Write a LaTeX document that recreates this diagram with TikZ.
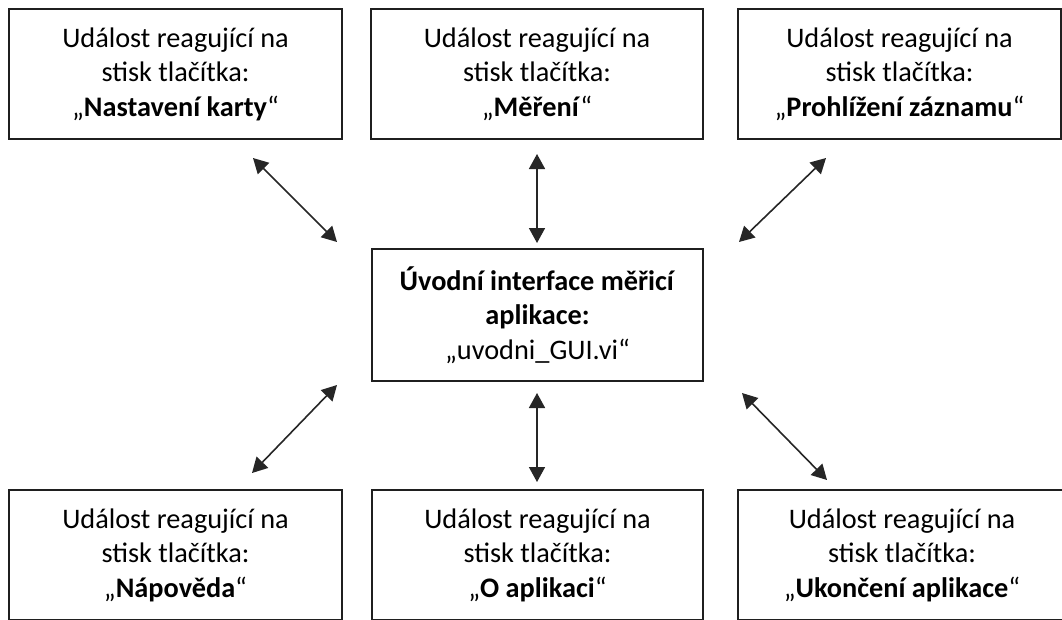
\documentclass[tikz,border=0pt]{standalone}
\usepackage{fontspec}
\setmainfont{Carlito}
\usetikzlibrary{arrows.meta}

\begin{document}
\begin{tikzpicture}[x=1pt, y=-1pt,
  box/.style={draw=black!88, line width=1.6pt, fill=white, inner sep=0pt,
    minimum height=130pt, align=center,
    font=\fontsize{28.3}{34.5}\selectfont},
  biarrow/.style={line width=1.6pt, draw=black!85,
    {Triangle[length=15pt,width=16pt]}-{Triangle[length=15pt,width=16pt]}}]

\useasboundingbox (0,0) rectangle (1062,619);
\clip (0,0) rectangle (1062,619);
\fill[white] (0,0) rectangle (1062,619);

% top row of event boxes
\node[box, minimum width=333pt] (tl) at (175.5,74)
  {Událost reagující na\\stisk tlačítka:\\„\textbf{Nastavení karty}“};
\node[box, minimum width=332pt] (tm) at (537,74)
  {Událost reagující na\\stisk tlačítka:\\„\textbf{Měření}“};
\node[box, minimum width=323pt] (tr) at (899.5,74)
  {Událost reagující na\\stisk tlačítka:\\„\textbf{Prohlížení záznamu}“};

% main interface box
\node[box, minimum width=331pt, minimum height=132pt] (c) at (537.5,315)
  {\textbf{Úvodní interface měřicí}\\\textbf{aplikace:}\\„uvodni\_GUI.vi“};

% bottom row of event boxes
\node[box, minimum width=333pt] (bl) at (175.5,555)
  {Událost reagující na\\stisk tlačítka:\\„\textbf{Nápověda}“};
\node[box, minimum width=331pt] (bm) at (537.5,555)
  {Událost reagující na\\stisk tlačítka:\\„\textbf{O aplikaci}“};
\node[box, minimum width=328pt] (br) at (902,555)
  {Událost reagující na\\stisk tlačítka:\\„\textbf{Ukončení aplikace}“};

% arrow end points
\coordinate (tl1) at (253,158);  \coordinate (tl2) at (337,242);
\coordinate (tm1) at (537,154);  \coordinate (tm2) at (537,243);
\coordinate (tr1) at (826,158);  \coordinate (tr2) at (739,242);
\coordinate (bl1) at (337,385);  \coordinate (bl2) at (252,473);
\coordinate (bm1) at (537,393);  \coordinate (bm2) at (537,482);
\coordinate (br1) at (742,393);  \coordinate (br2) at (827,480);

% two-way links between the interface and the events
\draw[biarrow] (tl1) -- (tl2);
\draw[biarrow] (tm1) -- (tm2);
\draw[biarrow] (tr1) -- (tr2);
\draw[biarrow] (bl1) -- (bl2);
\draw[biarrow] (bm1) -- (bm2);
\draw[biarrow] (br1) -- (br2);
\end{tikzpicture}
\end{document}
